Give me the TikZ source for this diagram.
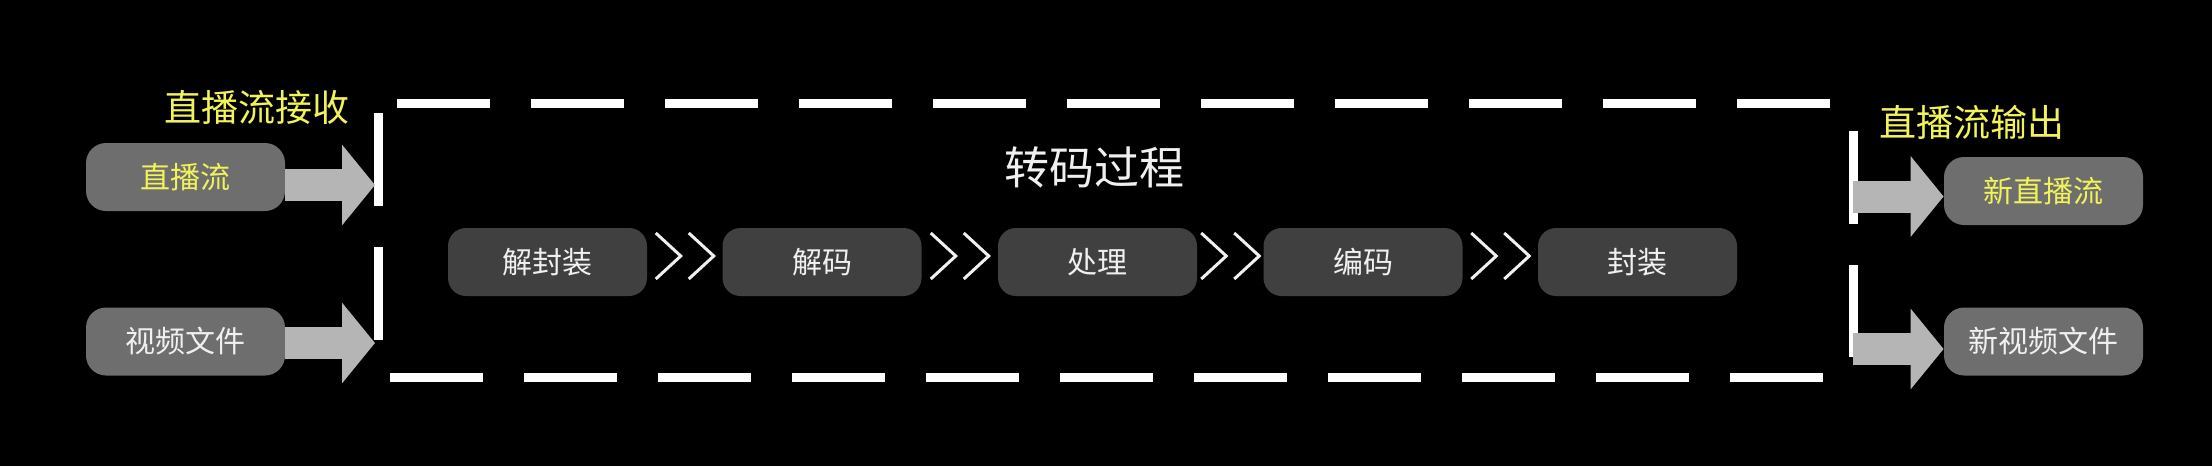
\documentclass[tikz,border=0pt]{standalone}
\usepackage{fontspec}
\setmainfont{Noto Sans CJK SC}
\usetikzlibrary{arrows.meta,calc}
\definecolor{outergray}{HTML}{6E6E6E}
\definecolor{innergray}{HTML}{404040}
\definecolor{arrowgray}{HTML}{B5B5B5}
\definecolor{liveyellow}{HTML}{F2F25A}
\definecolor{textwhite}{HTML}{F0F0F0}
\tikzset{
  boxtext/.style={text=textwhite, font=\fontsize{15pt}{18pt}\selectfont},
  srcbox/.style={boxtext, fill=outergray, rounded corners=10pt,
    minimum width=99.5pt, minimum height=34pt, inner sep=0pt},
  stepbox/.style={boxtext, fill=innergray, rounded corners=9pt,
    minimum width=99.5pt, minimum height=34pt, inner sep=0pt},
  sidetitle/.style={text=liveyellow, font=\fontsize{18.5pt}{22pt}\selectfont},
  bigarrow/.style={draw=arrowgray, line width=16pt,
    -{Triangle[length=16.5pt,width=39.5pt]}},
  frameline/.style={draw=white, line width=4.5pt,
    dash pattern=on 46.5pt off 20.5pt},
  chevron/.style={draw=textwhite, line width=1.5pt},
}
\begin{document}
\begin{tikzpicture}[x=0.5pt,y=-0.5pt]
  % background, one unit = one pixel of the reference
  \fill[black] (0,0) rectangle (2212,466);
  \useasboundingbox (0,0) rectangle (2212,466);

  % dashed frame round the transcoding steps
  \draw[frameline] (397,103.5) -- (1830,103.5);
  \draw[frameline] (390,377.5) -- (1823,377.5);
  \draw[frameline] (378,113) -- (378,340);
  \draw[frameline] (1853.5,131) -- (1853.5,357);

  % inputs
  \node[sidetitle] (recvtitle) at (257,107) {直播流接收};
  \node[srcbox, text=liveyellow] (live) at (185.5,177) {直播流};
  \node[srcbox] (file) at (185.5,341.5) {视频文件};

  % transcoding
  \node[text=textwhite, font=\fontsize{22.5pt}{26pt}\selectfont] (transtitle) at (1094,167) {转码过程};
  \node[stepbox] (unpack) at (547.5,262) {解封装};
  \node[stepbox] (decode) at (822,262) {解码};
  \node[stepbox] (proc) at (1097.5,262) {处理};
  \node[stepbox] (encode) at (1363,262) {编码};
  \node[stepbox] (pack) at (1637.5,262) {封装};

  \foreach \a/\b in {unpack/decode, decode/proc, proc/encode, encode/pack}{
    \coordinate (m) at ($(\a.east)!0.5!(\b.west)$);
    \begin{scope}[shift={(m)}]
      \draw[chevron] (-29,-29) -- (-4,-6) -- (-29,17);
      \draw[chevron] (4,-29) -- (29,-6) -- (4,17);
    \end{scope}
  }

  % outputs
  \node[sidetitle] (outtitle) at (1972,122) {直播流输出};
  \node[srcbox, text=liveyellow] (newlive) at (2043.5,191) {新直播流};
  \node[srcbox] (newfile) at (2043.5,341.5) {新视频文件};

  % block arrows
  \coordinate (livein) at (375,185);
  \coordinate (filein) at (375,343);
  \coordinate (liveout) at (1853,196.5);
  \coordinate (fileout) at (1853,349);
  \draw[bigarrow] (live.east |- livein) -- (livein);
  \draw[bigarrow] (file.east |- filein) -- (filein);
  \draw[bigarrow] (liveout) -- (liveout -| newlive.west);
  \draw[bigarrow] (fileout) -- (fileout -| newfile.west);
\end{tikzpicture}
\end{document}
